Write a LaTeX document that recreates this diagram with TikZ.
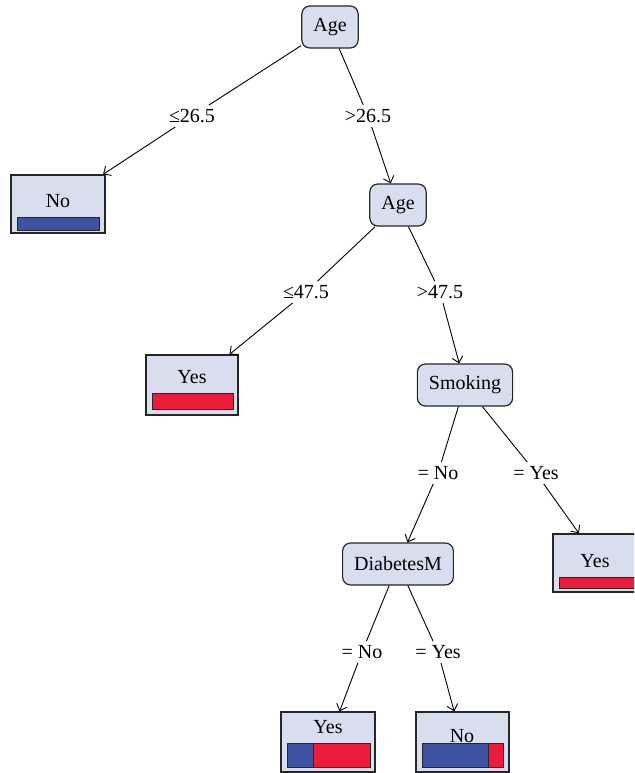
\documentclass[tikz,border=0pt]{standalone}
\usepackage{fontspec}
\setmainfont{Liberation Serif}
\usetikzlibrary{arrows.meta}
\definecolor{boxfill}{RGB}{217,222,238}
\definecolor{barblue}{RGB}{63,81,161}
\definecolor{barred}{RGB}{236,28,60}
\begin{document}
\begin{tikzpicture}[x=1pt,y=-1pt,>={Straight Barb[length=6pt,width=11pt]}]
\tikzset{test style/.style = {draw=black!85, line width=1.2pt, fill=boxfill,
  rounded corners=8pt, minimum height=42pt, inner xsep=11.5pt, inner ysep=0pt,
  font=\fontsize{20}{24}\selectfont},
  leaf style/.style = {draw=black!85, line width=1.2pt, fill=boxfill,
  minimum width=94pt, minimum height=58pt, inner sep=0pt},
  leaf text/.style = {anchor=base, inner sep=0pt, font=\fontsize{20}{24}\selectfont},
  cut style/.style = {inner sep=4pt, font=\fontsize{20}{24}\selectfont},
  bar blue/.style = {draw=black!85, line width=0.8pt, fill=barblue},
  bar red/.style = {draw=black!85, line width=0.8pt, fill=barred},
  edge style/.style = {line width=0.9pt}}
\clip (0,0) rectangle (634,773);
\useasboundingbox (0,0) rectangle (634,773);
% tests
\node[test style] (age1) at (330,27) {Age};
\node[test style] (age2) at (398,205) {Age};
\node[test style] (smoke) at (465,385) {Smoking};
\node[test style] (diab) at (398,564) {DiabetesM};
% leaves
\node[leaf style] (no1) at (58,204) {};
\node[leaf text] at (58,207) {No};
\filldraw[bar blue] (17,217) rectangle (99,230);
\node[leaf style, minimum width=92pt, minimum height=60pt] (yes1) at (192,385) {};
\node[leaf text] at (192,383) {Yes};
\filldraw[bar red] (152,393) rectangle (233,409);
\node[leaf style] (yes2) at (600,563) {};
\node[leaf text] at (595,567) {Yes};
\filldraw[bar red] (559,577) rectangle (641,588);
\node[leaf style, minimum height=60pt] (yes3) at (328,742) {};
\node[leaf text] at (328,733) {Yes};
\filldraw[bar blue] (287,743) rectangle (313,767);
\filldraw[bar red] (313,743) rectangle (370,767);
\node[leaf style, minimum width=93pt, minimum height=60pt] (no2) at (462.5,742) {};
\node[leaf text] at (462,742) {No};
\filldraw[bar blue] (422,743) rectangle (488,767);
\filldraw[bar red] (488,743) rectangle (503,767);
% cut labels
\node[cut style] (c1) at (192,116) {≤26.5};
\node[cut style] (c2) at (368,116) {>26.5};
\node[cut style] (c3) at (306,292) {≤47.5};
\node[cut style] (c4) at (440,292) {>47.5};
\node[cut style] (c5) at (438,473) {= No};
\node[cut style] (c6) at (536,473) {= Yes};
\node[cut style] (c7) at (362,652) {= No};
\node[cut style] (c8) at (438,652) {= Yes};
% edges
\draw[edge style] (age1) -- (c1);  \draw[edge style,->] (c1) -- (no1);
\draw[edge style] (age1) -- (c2);  \draw[edge style,->] (c2) -- (age2);
\draw[edge style] (age2) -- (c3);  \draw[edge style,->] (c3) -- (yes1);
\draw[edge style] (age2) -- (c4);  \draw[edge style,->] (c4) -- (smoke);
\draw[edge style] (smoke) -- (c5); \draw[edge style,->] (c5) -- (diab);
\draw[edge style] (smoke) -- (c6); \draw[edge style,->] (c6) -- (yes2);
\draw[edge style] (diab) -- (c7);  \draw[edge style,->] (c7) -- (yes3);
\draw[edge style] (diab) -- (c8);  \draw[edge style,->] (c8) -- (no2);
\end{tikzpicture}
\end{document}
